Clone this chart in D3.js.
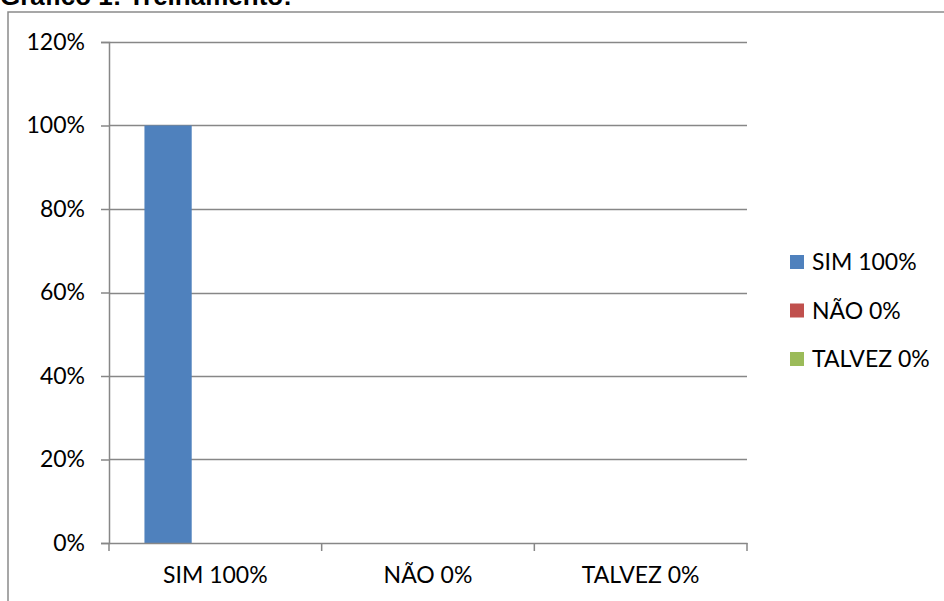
<!DOCTYPE html>
<html>
<head>
<meta charset="utf-8">
<script src="https://cdn.jsdelivr.net/npm/d3@7"></script>
<style>
  html, body { margin: 0; padding: 0; background: #fff; }
  svg { display: block; }
  text { font-family: Lato, "Open Sans", sans-serif; fill: #000; }
</style>
</head>
<body>
<svg id="chart" width="944" height="601"></svg>
<script>
// Survey answers: training received
const categories = ["SIM 100%", "NÃO 0%", "TALVEZ 0%"];
const seriesNames = ["SIM 100%", "NÃO 0%", "TALVEZ 0%"];
const simValues = [1.0, 0, 0];
const naoValues = [0, 0, 0];
const talvezValues = [0, 0, 0];
const yTicks = [0, 0.2, 0.4, 0.6, 0.8, 1.0, 1.2];
const seriesColors = ["#4F81BD", "#C0504D", "#9BBB59"];
const titleText = "Gráfico 1: Treinamento:";

const series = [
  { name: seriesNames[0], values: simValues, color: seriesColors[0] },
  { name: seriesNames[1], values: naoValues, color: seriesColors[1] },
  { name: seriesNames[2], values: talvezValues, color: seriesColors[2] }
];

const svg = d3.select("#chart");
const plot = { left: 109, right: 747, top: 42, bottom: 543 };
const axisColor = "#878787";
const labelSize = "23px";

// Title (runs off the top edge of the page)
svg.append("text")
  .attr("x", 0).attr("y", 5)
  .style("font-family", "'Liberation Sans', Arial, sans-serif")
  .style("font-weight", "bold")
  .style("font-size", "26px")
  .text(titleText);

// Chart frame
svg.append("path")
  .attr("d", "M8,610 L8,12 L950,12")
  .attr("fill", "none")
  .attr("stroke", "#8a8a8a")
  .attr("stroke-width", 1.5);

const x = d3.scaleBand().domain(categories).range([plot.left, plot.right]).padding(0);
const xSub = d3.scaleBand().domain(seriesNames).range([0, x.bandwidth()])
  .paddingInner(0).paddingOuter(0.75);
const y = d3.scaleLinear().domain([0, 1.2]).range([plot.bottom, plot.top]);

// Horizontal gridlines
svg.append("g")
  .selectAll("line")
  .data(yTicks.filter(t => t > 0))
  .join("line")
  .attr("x1", plot.left).attr("x2", plot.right)
  .attr("y1", d => Math.round(y(d)) + 0.5).attr("y2", d => Math.round(y(d)) + 0.5)
  .attr("stroke", axisColor).attr("stroke-width", 1.3);

// Bars
const groups = svg.append("g")
  .selectAll("g")
  .data(series)
  .join("g")
  .attr("fill", d => d.color);
groups.selectAll("rect")
  .data(s => categories.map((c, i) => ({ cat: c, name: s.name, value: s.values[i] })))
  .join("rect")
  .attr("x", d => x(d.cat) + xSub(d.name))
  .attr("width", xSub.bandwidth())
  .attr("y", d => y(d.value))
  .attr("height", d => y(0) - y(d.value));

// Y axis
const yAxis = svg.append("g")
  .attr("transform", `translate(${plot.left},0)`)
  .call(d3.axisLeft(y).tickValues(yTicks).tickFormat(d3.format(".0%")).tickSize(8).tickPadding(16));
yAxis.select(".domain").attr("stroke", axisColor).attr("stroke-width", 1.5);
yAxis.selectAll(".tick line").attr("stroke", axisColor).attr("stroke-width", 1.5);
yAxis.selectAll(".tick text").style("font-family", "Lato, sans-serif").style("font-size", labelSize).attr("fill", "#000");

// X axis with ticks at category boundaries
const xAxis = svg.append("g")
  .attr("transform", `translate(0,${plot.bottom})`)
  .call(d3.axisBottom(x).tickSize(0).tickPadding(24));
xAxis.select(".domain").attr("stroke", axisColor).attr("stroke-width", 1.5);
xAxis.selectAll(".tick text").style("font-family", "Lato, sans-serif").style("font-size", labelSize).attr("fill", "#000");
const boundaries = categories.map(c => x(c)).concat([x(categories[categories.length - 1]) + x.bandwidth()]);
xAxis.append("g")
  .selectAll("line")
  .data(boundaries)
  .join("line")
  .attr("x1", d => d).attr("x2", d => d)
  .attr("y1", 0).attr("y2", 8)
  .attr("stroke", axisColor).attr("stroke-width", 1.5);

// Legend
const legend = svg.append("g").attr("transform", "translate(790,255)");
const item = legend.selectAll("g")
  .data(series)
  .join("g")
  .attr("transform", (d, i) => `translate(0,${i * 48.5})`);
item.append("rect")
  .attr("width", 14).attr("height", 14)
  .attr("fill", d => d.color);
item.append("text")
  .attr("x", 22).attr("y", 7)
  .attr("dy", "0.36em")
  .style("font-size", labelSize)
  .text(d => d.name);
</script>
</body>
</html>
